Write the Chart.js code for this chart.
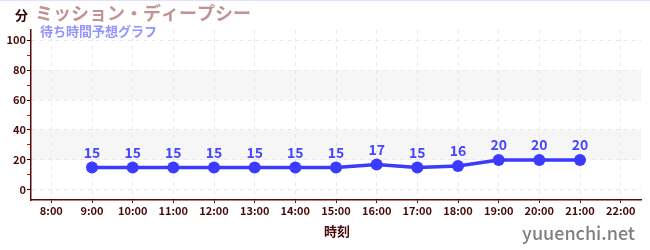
<!DOCTYPE html>
<html>
<head>
<meta charset="utf-8">
<script src="https://cdn.jsdelivr.net/npm/chart.js@4"></script>
<style>
html,body{margin:0;padding:0;background:#fff;}
#wrap{width:650px;height:250px;position:relative;}
</style>
</head>
<body>
<div id="wrap"><canvas id="c" width="650" height="250"></canvas></div>
<script>
const hours = ['8:00','9:00','10:00','11:00','12:00','13:00','14:00','15:00','16:00','17:00','18:00','19:00','20:00','21:00','22:00'];
const waitMinutes = [null,15,15,15,15,15,15,15,17,15,16,20,20,20,null];
const yTickValues = [0,10,20,30,40,50,60,70,80,90,100];
const bandRanges = [[20,40],[60,80]];
const titleText = 'ミッション・ディープシー';
const subtitleText = '待ち時間予想グラフ';
const unitText = '分';
const xTitleText = '時刻';
const siteText = 'yuuenchi.net';

const FONT = '"Noto Sans CJK JP", "Noto Sans", sans-serif';
const axisColor = '#5a0a0a';
const labelColor = '#4a0a0a';
const lineColor = '#3b3bff';

const decor = {
  id: 'decor',
  beforeDraw(chart) {
    const {ctx, chartArea: a, scales: {y}} = chart;
    ctx.save();
    ctx.fillStyle = '#f6f6f6';
    bandRanges.forEach(([lo, hi]) => {
      const t = y.getPixelForValue(hi), b = y.getPixelForValue(lo);
      ctx.fillRect(a.left, t, a.right - a.left, b - t);
    });
    ctx.restore();
  },
  afterDraw(chart) {
    const {ctx} = chart;
    ctx.save();
    ctx.strokeStyle = '#e2e2ff';
    ctx.lineWidth = 1;
    ctx.beginPath(); ctx.moveTo(0, 0.5); ctx.lineTo(650, 0.5); ctx.stroke();
    const meta = chart.getDatasetMeta(0);
    ctx.font = 'bold 14px ' + FONT;
    ctx.fillStyle = '#4646ff';
    ctx.textAlign = 'center';
    ctx.textBaseline = 'middle';
    meta.data.forEach((pt, i) => {
      const v = waitMinutes[i];
      if (v == null) return;
      ctx.fillText(String(v), pt.x, pt.y - 15);
    });
    ctx.textAlign = 'left';
    ctx.fillStyle = '#c39292';
    ctx.font = 'bold 18px ' + FONT;
    ctx.fillText(titleText, 35, 13);
    ctx.fillStyle = '#9494ff';
    ctx.font = 'bold 13px ' + FONT;
    ctx.fillText(subtitleText, 40, 31);
    ctx.fillStyle = '#300000';
    ctx.font = 'bold 13px ' + FONT;
    ctx.fillText(unitText, 15, 15);
    ctx.textAlign = 'center';
    ctx.fillStyle = labelColor;
    ctx.font = 'bold 13px ' + FONT;
    ctx.fillText(xTitleText, 337, 231);
    ctx.textAlign = 'right';
    ctx.fillStyle = '#808080';
    ctx.font = '500 18px ' + FONT;
    ctx.fillText(siteText, 635, 233);
    ctx.restore();
  }
};

new Chart(document.getElementById('c'), {
  type: 'line',
  data: {
    labels: hours,
    datasets: [{
      data: waitMinutes,
      borderColor: lineColor,
      backgroundColor: lineColor,
      borderWidth: 3.5,
      pointRadius: 6,
      pointHoverRadius: 6,
      pointBackgroundColor: lineColor,
      pointBorderWidth: 0,
      tension: 0,
      spanGaps: false
    }]
  },
  options: {
    responsive: false,
    animation: false,
    events: [],
    layout: {padding: {left: 0, right: 9, top: 30, bottom: 0}},
    plugins: {legend: {display: false}, tooltip: {enabled: false}, title: {display: false}},
    scales: {
      x: {
        type: 'category',
        offset: true,
        afterFit(s) { s.height = 50; },
        grid: {
          offset: false,
          color: '#e8e8e8',
          lineWidth: 1,
          drawTicks: true,
          tickLength: 3,
          tickColor: axisColor
        },
        border: {display: true, color: axisColor, width: 1.5, dash: [4, 4]},
        ticks: {
          color: labelColor,
          font: {family: FONT, size: 11, weight: 'bold'},
          padding: 1,
          maxRotation: 0,
          autoSkip: false
        }
      },
      y: {
        min: -6.67,
        max: 106.67,
        afterFit(s) { s.width = 31; },
        afterBuildTicks(s) { s.ticks = yTickValues.map(v => ({value: v})); },
        grid: {
          color: ctx => (ctx.tick && ctx.tick.value % 20 === 0) ? '#e8e8e8' : 'rgba(0,0,0,0)',
          tickColor: ctx => (ctx.tick && ctx.tick.value % 20 === 0) ? '#300000' : '#e00000',
          tickLength: 4,
          drawTicks: true
        },
        border: {display: true, color: axisColor, width: 1.5, dash: [4, 4]},
        ticks: {
          color: labelColor,
          font: {family: FONT, size: 11, weight: 'bold'},
          padding: 1,
          autoSkip: false,
          callback: v => (v % 20 === 0 ? String(v) : '')
        }
      }
    }
  },
  plugins: [decor]
});
</script>
</body>
</html>
